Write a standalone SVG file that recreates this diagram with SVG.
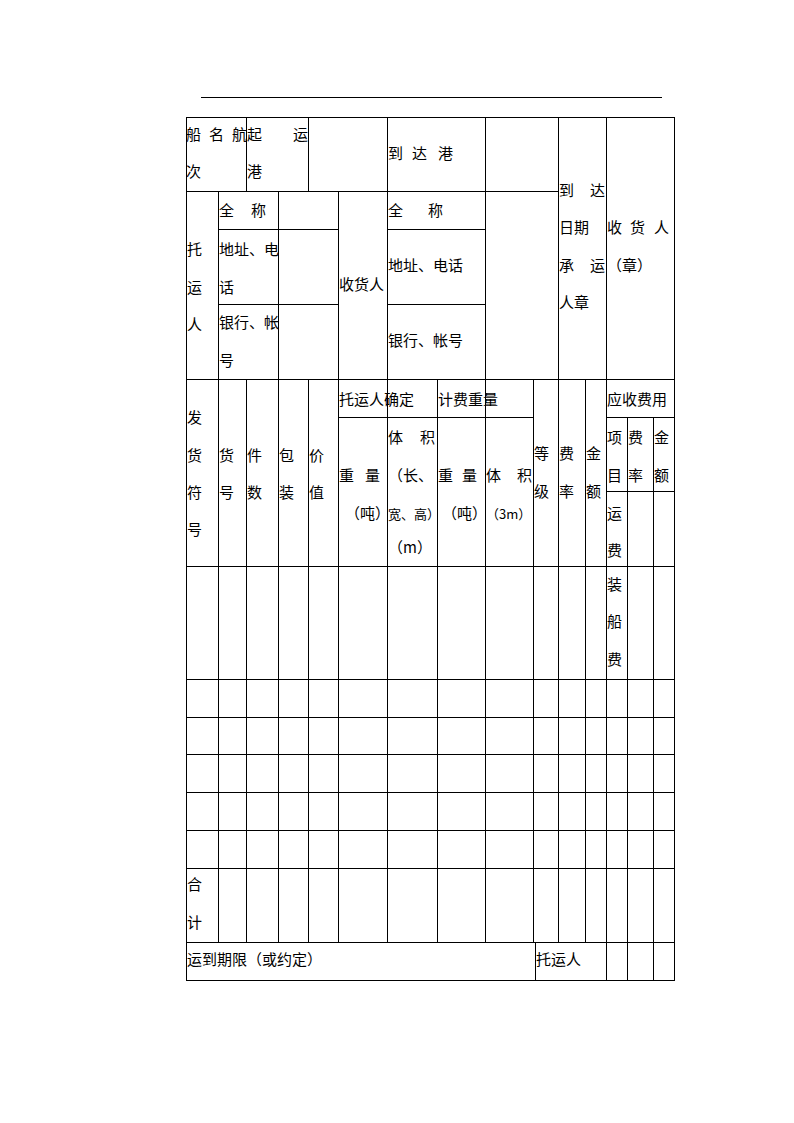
<svg xmlns="http://www.w3.org/2000/svg" width="794" height="1123" viewBox="0 0 794 1123">
<style>
line{stroke:#000;stroke-width:1;fill:none}
text{font-family:"Noto Sans CJK SC","Liberation Sans",sans-serif;font-size:15px;fill:#000}
</style>
<rect width="794" height="1123" fill="#fff"/>
<line x1="201" y1="97.5" x2="662" y2="97.5"/>
<g id="grid">
<line x1="186" y1="117.5" x2="675" y2="117.5"/>
<line x1="186" y1="191.5" x2="558.5" y2="191.5"/>
<line x1="218.5" y1="229.5" x2="338.5" y2="229.5"/>
<line x1="387.5" y1="229.5" x2="485.5" y2="229.5"/>
<line x1="218.5" y1="304.5" x2="338.5" y2="304.5"/>
<line x1="387.5" y1="304.5" x2="485.5" y2="304.5"/>
<line x1="186" y1="379.5" x2="675" y2="379.5"/>
<line x1="338.5" y1="417.5" x2="533.5" y2="417.5"/>
<line x1="606.5" y1="417.5" x2="674.5" y2="417.5"/>
<line x1="606.5" y1="491.5" x2="674.5" y2="491.5"/>
<line x1="186" y1="566.5" x2="675" y2="566.5"/>
<line x1="186" y1="679.5" x2="675" y2="679.5"/>
<line x1="186" y1="717.5" x2="675" y2="717.5"/>
<line x1="186" y1="754.5" x2="675" y2="754.5"/>
<line x1="186" y1="792.5" x2="675" y2="792.5"/>
<line x1="186" y1="830.5" x2="675" y2="830.5"/>
<line x1="186" y1="868.5" x2="675" y2="868.5"/>
<line x1="186" y1="942.5" x2="675" y2="942.5"/>
<line x1="186" y1="980.5" x2="675" y2="980.5"/>
<line x1="186.5" y1="117" x2="186.5" y2="981"/>
<line x1="674.5" y1="117" x2="674.5" y2="981"/>
<line x1="246.5" y1="117" x2="246.5" y2="191"/>
<line x1="308.5" y1="117" x2="308.5" y2="191"/>
<line x1="387.5" y1="117" x2="387.5" y2="942"/>
<line x1="485.5" y1="117" x2="485.5" y2="942"/>
<line x1="558.5" y1="117" x2="558.5" y2="942"/>
<line x1="606.5" y1="117" x2="606.5" y2="981"/>
<line x1="218.5" y1="191" x2="218.5" y2="942"/>
<line x1="278.5" y1="191" x2="278.5" y2="942"/>
<line x1="338.5" y1="191" x2="338.5" y2="942"/>
<line x1="246.5" y1="379" x2="246.5" y2="942"/>
<line x1="308.5" y1="379" x2="308.5" y2="942"/>
<line x1="437.5" y1="379" x2="437.5" y2="942"/>
<line x1="533.5" y1="379" x2="533.5" y2="942"/>
<line x1="585.5" y1="379" x2="585.5" y2="942"/>
<line x1="627.5" y1="417" x2="627.5" y2="981"/>
<line x1="653.5" y1="417" x2="653.5" y2="981"/>
<line x1="535.5" y1="942" x2="535.5" y2="981"/>
</g>
<g id="texts">
<text x="186" y="140">船</text><text x="209" y="140">名</text><text x="232" y="140">航</text>
<text x="186" y="177">次</text>
<text x="247" y="140">起</text><text x="293" y="140">运</text>
<text x="247" y="177">港</text>
<text x="388" y="159">到</text><text x="412" y="159">达</text><text x="438" y="159">港</text>
<text x="559" y="196">到</text><text x="590" y="196">达</text>
<text x="559" y="233">日期</text>
<text x="559" y="271">承</text><text x="590" y="271">运</text>
<text x="559" y="308">人章</text>
<text x="607" y="233">收</text><text x="630" y="233">货</text><text x="654" y="233">人</text>
<text x="607" y="271">（章）</text>
<text x="187" y="255">托</text><text x="187" y="293">运</text><text x="187" y="330">人</text>
<text x="219" y="216">全</text><text x="251" y="216">称</text>
<text x="219" y="255">地址、电</text><text x="219" y="293">话</text>
<text x="219" y="328">银行、帐</text><text x="219" y="366">号</text>
<text x="339" y="290">收货人</text>
<text x="388" y="216">全</text><text x="428" y="216">称</text>
<text x="388" y="271">地址、电话</text>
<text x="388" y="346">银行、帐号</text>
<text x="187" y="423">发</text><text x="187" y="461">货</text><text x="187" y="498">符</text><text x="187" y="535">号</text>
<text x="219" y="461">货</text><text x="219" y="498">号</text>
<text x="247" y="461">件</text><text x="247" y="498">数</text>
<text x="279" y="461">包</text><text x="279" y="498">装</text>
<text x="309" y="461">价</text><text x="309" y="498">值</text>
<text x="339" y="405">托运人确定</text>
<text x="438" y="405">计费重量</text>
<text x="607" y="405">应收费用</text>
<text x="339" y="481">重</text><text x="365" y="481">量</text>
<text x="345" y="519">（吨）</text>
<text x="388" y="443">体</text><text x="420" y="443">积</text>
<text x="388" y="481">（长、</text>
<text x="388" y="519" style="font-size:13px">宽、高）</text>
<text x="388" y="553">（m）</text>
<text x="438" y="481">重</text><text x="462" y="481">量</text>
<text x="442" y="519">（吨）</text>
<text x="486" y="481">体</text><text x="517" y="481">积</text>
<text x="486" y="519" style="font-size:13px">（3m）</text>
<text x="534" y="459">等</text><text x="534" y="497">级</text>
<text x="559" y="459">费</text><text x="559" y="497">率</text>
<text x="586" y="459">金</text><text x="586" y="497">额</text>
<text x="607" y="443">项</text><text x="607" y="481">目</text>
<text x="628" y="443">费</text><text x="628" y="481">率</text>
<text x="654" y="443">金</text><text x="654" y="481">额</text>
<text x="607" y="519">运</text><text x="607" y="556">费</text>
<text x="607" y="590">装</text><text x="607" y="627">船</text><text x="607" y="665">费</text>
<text x="187" y="890">合</text><text x="187" y="928">计</text>
<text x="187" y="965">运到期限（或约定）</text>
<text x="536" y="965">托运人</text>
</g>
</svg>
